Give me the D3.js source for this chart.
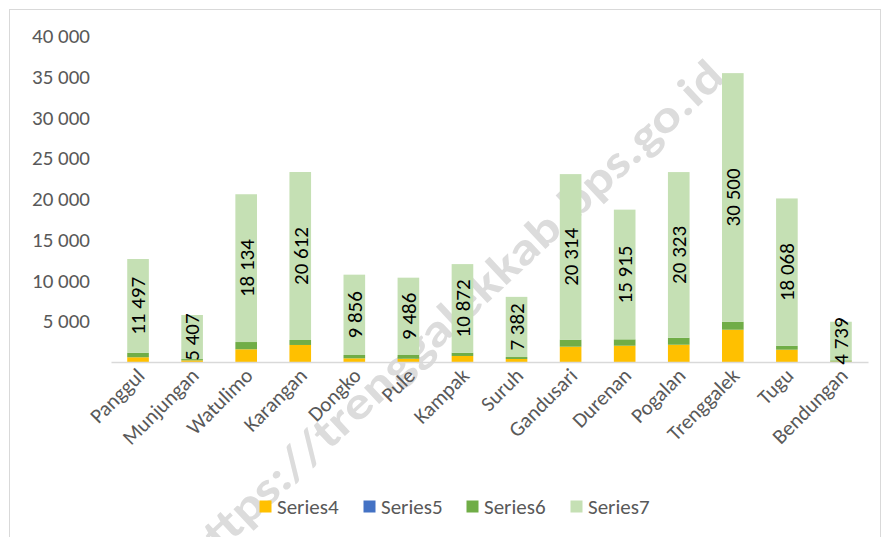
<!DOCTYPE html>
<html>
<head>
<meta charset="utf-8">
<script src="https://cdn.jsdelivr.net/npm/d3@7"></script>
<style>
  html, body { margin: 0; padding: 0; background: #fff; }
  svg { display: block; font-family: Carlito, Lato, "Open Sans", sans-serif; }
</style>
</head>
<body>
<svg id="chart" width="889" height="537"></svg>
<script>
const categories = ["Panggul","Munjungan","Watulimo","Karangan","Dongko","Pule","Kampak","Suruh","Gandusari","Durenan","Pogalan","Trenggalek","Tugu","Bendungan"];
const series4 = [580, 200, 1560, 2090, 450, 400, 740, 370, 1880, 2000, 2120, 3960, 1510, 50];
const series5 = [0, 0, 0, 0, 0, 0, 0, 0, 0, 0, 0, 0, 0, 0];
const series6 = [560, 160, 890, 610, 410, 460, 400, 240, 860, 780, 860, 985, 490, 150];
const series7 = [11497, 5407, 18134, 20612, 9856, 9486, 10872, 7382, 20314, 15915, 20323, 30500, 18068, 4739];
const seriesNames = ["Series4","Series5","Series6","Series7"];
const seriesColors = ["#FFC000","#4472C4","#70AD47","#C5E0B4"];
const yTicks = [5000,10000,15000,20000,25000,30000,35000,40000];
const watermarkText = "https://trenggalekkab.bps.go.id";

const svg = d3.select("#chart");
const W = 889, H = 537;
const FS = 21;
const margin = {left: 111, right: 21, top: 36, bottom: 175};
const x = d3.scaleBand().domain(categories).range([margin.left, W - margin.right]).paddingInner(0.6).paddingOuter(0.3);
const y = d3.scaleLinear().domain([0, 40000]).range([H - margin.bottom, margin.top]);
const fmt = d3.formatLocale({decimal: ",", thousands: " ", grouping: [3], currency: ["", ""]}).format(",d");

// chart frame
svg.append("rect").attr("x", 9.5).attr("y", 9.5).attr("width", 871).attr("height", 540)
  .attr("fill", "#fff").attr("stroke", "#d9d9d9").attr("stroke-width", 1);

// watermark (behind bars)
svg.append("text")
  .attr("transform", "translate(452,314) rotate(-43)")
  .attr("text-anchor", "middle").attr("dy", "0.35em")
  .attr("font-size", 46).attr("font-weight", "bold")
  .attr("textLength", 722).attr("lengthAdjust", "spacingAndGlyphs")
  .attr("fill", "#dcdcdc")
  .text(watermarkText);

// stacked data
const rows = categories.map((c, i) => ({cat: c, Series4: series4[i], Series5: series5[i], Series6: series6[i], Series7: series7[i]}));
const stacked = d3.stack().keys(seriesNames)(rows);

const g = svg.append("g");
stacked.forEach((layer, li) => {
  g.append("g").attr("fill", seriesColors[li])
    .selectAll("rect").data(layer).join("rect")
    .attr("x", d => x(d.data.cat))
    .attr("width", x.bandwidth())
    .attr("y", d => y(d[1]))
    .attr("height", d => Math.max(0, y(d[0]) - y(d[1])));
});

// baseline axis
const xAxis = svg.append("g").attr("transform", `translate(0,${y(0)})`)
  .call(d3.axisBottom(x).tickSize(0).tickFormat(""));
xAxis.select(".domain").attr("stroke", "#d9d9d9").attr("stroke-width", 1.5);

// y tick labels
const yAxis = svg.append("g").attr("transform", `translate(${margin.left},0)`)
  .call(d3.axisLeft(y).tickValues(yTicks).tickSize(0).tickPadding(21).tickFormat(fmt));
yAxis.select(".domain").remove();
yAxis.selectAll("text").attr("font-size", FS).attr("fill", "#595959").attr("font-family", "Carlito, Lato, sans-serif");

// x labels
svg.append("g").selectAll("text").data(categories).join("text")
  .attr("transform", d => `translate(${x(d) + x.bandwidth() / 2 + 8},${y(0) + 15}) rotate(-45)`)
  .attr("text-anchor", "end")
  .attr("font-size", FS).attr("fill", "#595959")
  .text(d => d);

// value labels on series7
const topLayer = stacked[3];
svg.append("g").selectAll("text").data(topLayer).join("text")
  .attr("transform", d => `translate(${x(d.data.cat) + x.bandwidth() / 2},${(y(d[0]) + y(d[1])) / 2}) rotate(-90)`)
  .attr("text-anchor", "middle").attr("dy", "0.35em")
  .attr("font-size", FS).attr("fill", "#000")
  .text(d => fmt(d.data.Series7));

// legend
const legendX = [259.5, 363.5, 466.5, 570.5];
const lg = svg.append("g");
seriesNames.forEach((s, i) => {
  lg.append("rect").attr("x", legendX[i]).attr("y", 500.5).attr("width", 12).attr("height", 12).attr("fill", seriesColors[i]);
  lg.append("text").attr("x", legendX[i] + 17.5).attr("y", 507).attr("dy", "0.35em")
    .attr("font-size", FS).attr("fill", "#595959").text(s);
});
</script>
</body>
</html>
